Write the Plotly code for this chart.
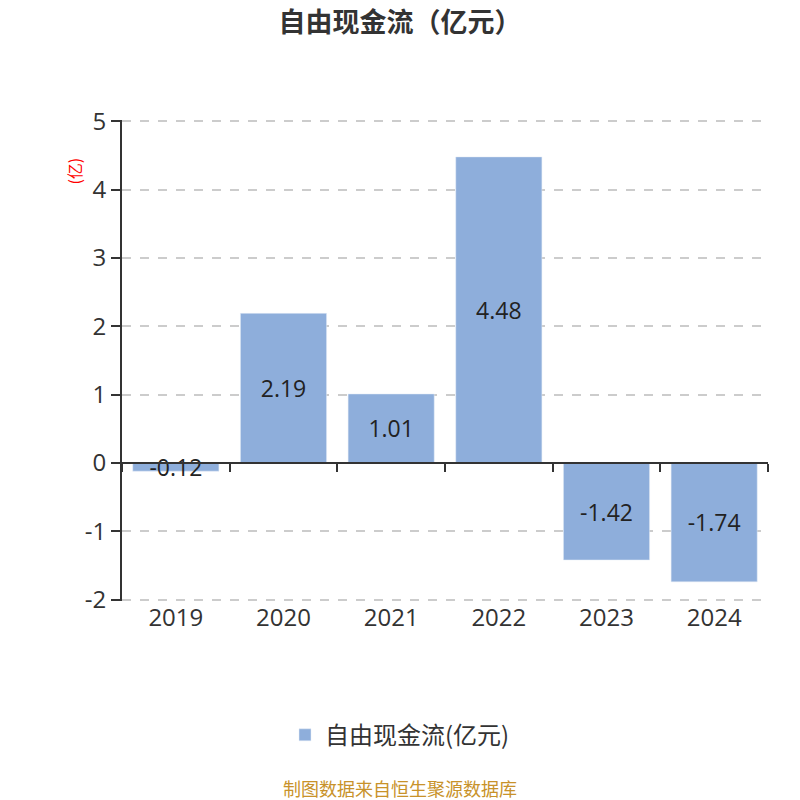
import plotly.graph_objects as go

# Données
annees = ["2019", "2020", "2021", "2022", "2023", "2024"]
flux = [-0.12, 2.19, 1.01, 4.48, -1.42, -1.74]
y_ticks = [-2, -1, 0, 1, 2, 3, 4, 5]

police = "Open Sans, Noto Sans CJK SC, sans-serif"
police_cjk = "Noto Sans CJK SC, sans-serif"
bleu = "#8eaedb"

fig = go.Figure()
fig.add_trace(go.Bar(
    x=annees, y=flux, name="自由现金流(亿元)",
    marker_color=bleu,
    text=[str(v) for v in flux],
    textposition="inside", insidetextanchor="middle",
    textangle=0, constraintext="none",
    textfont=dict(size=23, color="#222222"),
))
# trace invisible pour l'axe x placé à y=0 (ticks entre les catégories)
fig.add_trace(go.Scatter(
    x=annees, y=flux, xaxis="x2", mode="markers",
    marker=dict(opacity=0), showlegend=False, hoverinfo="skip",
))

# léger débord pour que les grilles de 5 et -2 restent visibles
y_min, y_max = -2.02, 5.02
H = 792
centre = (392 - 114) / 646  # centre de la page, en fraction de la zone de tracé
fig.update_layout(
    width=784, height=H,
    plot_bgcolor="white", paper_bgcolor="white",
    font=dict(family=police, color="#333333"),
    margin=dict(l=114, r=24, t=112, b=H - 593),
    title=dict(text="<b>自由现金流（亿元）</b>", x=0.5, xanchor="center",
               y=1, yanchor="top", pad=dict(t=5),
               font=dict(family=police_cjk, size=27, color="#333333")),
    bargap=0.2,
    xaxis=dict(showline=False, ticks="", showgrid=False,
               tickfont=dict(size=24, color="#333333")),
    xaxis2=dict(overlaying="x", anchor="free", position=(0 - y_min) / (y_max - y_min),
                matches="x", showline=True, linecolor="#333333", linewidth=2,
                ticks="outside", tickson="boundaries", ticklen=8, tickwidth=2,
                tickcolor="#333333", showticklabels=False, showgrid=False),
    yaxis=dict(range=[y_min, y_max], tickvals=y_ticks,
               ticktext=[str(t) for t in y_ticks],
               showline=True, linecolor="#333333", linewidth=2,
               ticks="outside", ticklen=9, tickwidth=2, tickcolor="#333333",
               showgrid=True, gridcolor="#cccccc", griddash="dash", gridwidth=1.5,
               zeroline=False, tickfont=dict(size=24, color="#333333")),
    legend=dict(orientation="h", x=centre, xanchor="center", y=-0.279, yanchor="middle",
                font=dict(family=police_cjk, size=24, color="#333333")),
    annotations=[
        dict(text="(亿)", xref="paper", yref="paper", x=-0.096, y=0.927,
             showarrow=False, textangle=-90,
             font=dict(family=police_cjk, size=16, color="red")),
        dict(text="制图数据来自恒生聚源数据库", xref="paper", yref="paper",
             x=centre, y=(593 - 780) / 481, xanchor="center", yanchor="middle",
             showarrow=False,
             font=dict(family=police_cjk, size=18, color="#c8922a")),
    ],
)

fig.write_html("out.html")
